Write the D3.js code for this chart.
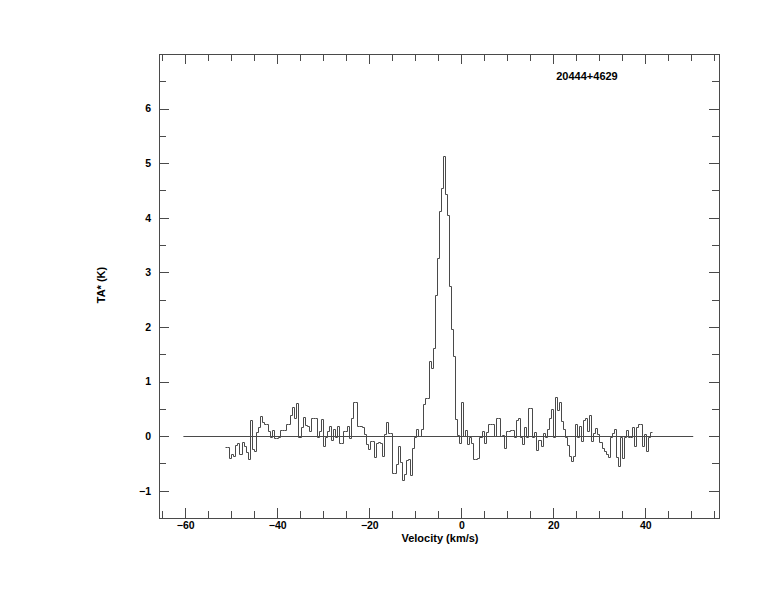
<!DOCTYPE html>
<html><head><meta charset="utf-8">
<script src="https://cdn.jsdelivr.net/npm/d3@7"></script>
<style>
body{margin:0;background:#fff}
svg{display:block}
text{font-family:"Liberation Sans",Arial,Helvetica,sans-serif;font-weight:bold;font-size:11px;fill:#000}
.tick text{font-size:10.5px}
</style>
</head><body><svg id="c" width="774" height="612"></svg>
<script>
// ---- data ----
const title = "20444+4629";
const xLabel = "Velocity (km/s)";
const yLabel = "TA* (K)";
const xDomain = [-65.7, 56.0];
const yDomain = [-1.5, 7.0];
const xMajorTicks = [-60, -40, -20, 0, 20, 40];
const xMinorTicks = [-65,-55,-50,-45,-35,-30,-25,-15,-10,-5,5,10,15,25,30,35,45,50,55];
const yMajorTicks = [-1, 0, 1, 2, 3, 4, 5, 6];
const yMinorTicks = [-1.5,-0.5,0.5,1.5,2.5,3.5,4.5,5.5,6.5];
const baselineRange = [-60.4, 50.4];
const vStart = -51.3;      // left edge of first channel (km/s)
const chanWidth = 0.442;   // channel width (km/s)
const ta = [
-0.20,-0.20,-0.40,-0.32,-0.36,-0.16,-0.13,-0.32,-0.10,-0.18,
-0.30,-0.42,0.29,-0.24,-0.27,0.08,0.16,0.37,0.26,0.23,
0.23,0.10,-0.01,0.11,-0.04,-0.04,-0.01,0.11,0.11,0.11,
0.22,0.22,0.39,0.54,0.34,0.60,-0.01,0.16,0.35,0.21,
0.19,0.10,0.34,0.34,0.34,-0.01,0.10,0.31,-0.18,-0.02,
0.10,0.19,-0.07,0.13,-0.02,0.19,-0.13,-0.13,0.085,0.085,
0.19,-0.04,0.34,0.62,0.62,0.18,0.18,0.16,0.04,-0.15,
-0.23,-0.085,-0.085,-0.38,-0.12,-0.10,-0.12,-0.36,0.04,0.25,
0.05,0.05,-0.67,-0.67,-0.51,-0.18,-0.48,-0.81,-0.70,-0.44,
-0.42,-0.71,-0.21,-0.01,0.13,0.01,0.13,0.59,0.70,0.70,
1.38,1.24,1.62,2.58,3.27,4.13,4.54,5.13,4.43,4.05,
2.75,1.97,1.47,0.31,0.02,-0.12,0.62,0.0,0.11,-0.15,
-0.02,-0.13,-0.42,-0.42,-0.41,-0.02,0.10,-0.13,0.07,0.23,
0.23,0.22,0.0,0.34,0.34,0.0,0.02,-0.21,0.085,0.085,
0.11,0.11,-0.02,0.29,0.34,-0.02,-0.15,0.16,-0.02,0.51,
0.51,-0.01,0.07,-0.26,-0.07,-0.18,0.05,-0.01,0.13,0.33,
0.49,-0.02,0.71,0.48,0.63,0.28,0.13,-0.01,-0.16,-0.36,
-0.45,-0.36,0.23,-0.02,0.19,-0.085,0.29,0.34,0.10,0.39,
-0.085,0.05,0.15,0.04,-0.10,-0.21,-0.28,-0.32,-0.39,-0.02,
0.05,0.13,-0.39,-0.54,-0.01,-0.40,-0.01,0.11,-0.01,-0.01,
0.16,-0.18,0.16,0.22,0.23,-0.18,0.04,-0.27,-0.01,0.08
];

// ---- layout ----
const W = 774, H = 612;
const m = {left:159, right:55, top:54, bottom:94};
const iw = W - m.left - m.right, ih = H - m.top - m.bottom;
const svg = d3.select("#c");
const g = svg.append("g").attr("transform", `translate(${m.left},${m.top})`);
const x = d3.scaleLinear().domain(xDomain).range([0, iw]);
const y = d3.scaleLinear().domain(yDomain).range([ih, 0]);
const lineCol = "#4a4a4a";
const MAJ = 10, MIN = 7;

function styleAxis(sel){
  sel.select(".domain").remove();
  sel.selectAll(".tick line").attr("stroke", lineCol).attr("shape-rendering","crispEdges");
}
// bottom
g.append("g").attr("transform",`translate(0,${ih})`)
  .call(d3.axisBottom(x).tickValues(xMajorTicks).tickSizeInner(-MAJ).tickSizeOuter(0).tickPadding(4).tickFormat(d3.format("d")))
  .call(styleAxis);
g.append("g").attr("transform",`translate(0,${ih})`)
  .call(d3.axisBottom(x).tickValues(xMinorTicks).tickSizeInner(-MIN).tickSizeOuter(0).tickFormat(""))
  .call(styleAxis);
// top
g.append("g")
  .call(d3.axisTop(x).tickValues(xMajorTicks).tickSizeInner(-MAJ).tickSizeOuter(0).tickFormat(""))
  .call(styleAxis);
g.append("g")
  .call(d3.axisTop(x).tickValues(xMinorTicks).tickSizeInner(-MIN).tickSizeOuter(0).tickFormat(""))
  .call(styleAxis);
// left
g.append("g")
  .call(d3.axisLeft(y).tickValues(yMajorTicks).tickSizeInner(-MAJ).tickSizeOuter(0).tickPadding(8).tickFormat(d3.format("d")))
  .call(styleAxis);
g.append("g")
  .call(d3.axisLeft(y).tickValues(yMinorTicks).tickSizeInner(-MIN).tickSizeOuter(0).tickFormat(""))
  .call(styleAxis);
// right
g.append("g").attr("transform",`translate(${iw},0)`)
  .call(d3.axisRight(y).tickValues(yMajorTicks).tickSizeInner(-MAJ).tickSizeOuter(0).tickFormat(""))
  .call(styleAxis);
g.append("g").attr("transform",`translate(${iw},0)`)
  .call(d3.axisRight(y).tickValues(yMinorTicks).tickSizeInner(-MIN).tickSizeOuter(0).tickFormat(""))
  .call(styleAxis);
g.selectAll(".tick text").attr("fill","#000").attr("font-family",null).attr("font-size",null);

// frame
g.append("rect").attr("x",0.5).attr("y",0.5).attr("width",iw).attr("height",ih)
  .attr("fill","none").attr("stroke",lineCol).attr("shape-rendering","crispEdges");

// baseline
g.append("line")
  .attr("x1", x(baselineRange[0])).attr("x2", x(baselineRange[1]))
  .attr("y1", Math.round(y(0))+0.5).attr("y2", Math.round(y(0))+0.5)
  .attr("stroke", lineCol).attr("stroke-width",1);

// spectrum (histogram steps)
const pts = ta.map((v,i)=>[vStart + i*chanWidth, v]);
pts.push([vStart + ta.length*chanWidth, ta[ta.length-1]]);
const line = d3.line().x(d=>Math.round(x(d[0]))+0.5).y(d=>Math.round(y(d[1]))+0.5).curve(d3.curveStepAfter);
g.append("path").datum(pts).attr("d", line).attr("fill","none")
  .attr("stroke", lineCol).attr("stroke-width",1);

// texts
svg.append("text").attr("x",587).attr("y",80).attr("text-anchor","middle").text(title);
svg.append("text").attr("x",440).attr("y",542).attr("text-anchor","middle").text(xLabel);
svg.append("text").attr("transform","translate(105,285) rotate(-90)").attr("text-anchor","middle").text(yLabel);
</script>
</body></html>
